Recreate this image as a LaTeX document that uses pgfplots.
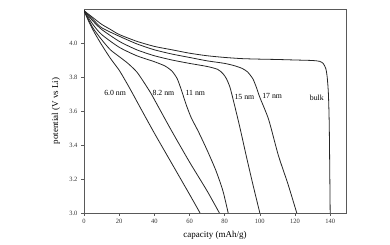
\documentclass[border=0pt]{standalone}
\usepackage{pgfplots}
\pgfplotsset{compat=1.18}
\usepackage{fontspec}
\setmainfont{Liberation Serif}
\begin{document}
\begin{tikzpicture}[x=1pt,y=1pt]
\path[use as bounding box] (0,0) rectangle (390,245);
\begin{axis}[at={(84pt,32pt)}, anchor=south west, scale only axis,
  width=262pt, height=204pt,
  xmin=0, xmax=149, ymin=3.0, ymax=4.2,
  xtick={0,20,40,60,80,100,120,140},
  ytick={3.0,3.2,3.4,3.6,3.8,4.0},
  tick align=outside, xtick pos=bottom, ytick pos=left,
  major tick length=3pt,
  tick style={black!65, line width=0.6pt},
  axis line style={black!65, line width=0.8pt},
  /pgf/number format/assume math mode=true,
  ticklabel style={font=\fontsize{6.5}{7}\selectfont, text=black!80},
  yticklabel style={/pgf/number format/fixed, /pgf/number format/fixed zerofill, /pgf/number format/precision=1},
  xlabel={capacity (mAh/g)}, ylabel={potential (V vs Li)},
  label style={font=\fontsize{9}{10}\selectfont},
  xlabel style={at={(axis description cs:0.5,-0.108)}, anchor=center},
  ylabel style={at={(axis description cs:-0.107,0.5)}, anchor=center},
  cycle list={{black!85}},
  no markers,
  every axis plot/.append style={black!85, line width=0.8pt, smooth, tension=0.4},
]
% 6.0 nm
\addplot coordinates {(0,4.19) (3,4.12) (6,4.06) (10,3.99) (15,3.91) (20,3.84) (24,3.77) (27,3.715) (32,3.62) (40,3.47) (50,3.29) (60,3.11) (66,3.0)};
% 8.2 nm
\addplot coordinates {(0,4.19) (5,4.09) (10,4.02) (15,3.96) (20,3.92) (25,3.88) (30,3.83) (34,3.77) (38,3.705) (42,3.63) (50,3.48) (60,3.30) (70,3.13) (77,3.0)};
% 11 nm
\addplot coordinates {(0,4.19) (5,4.11) (10,4.05) (20,3.975) (30,3.925) (40,3.89) (46,3.865) (50,3.835) (53,3.79) (55.5,3.72) (58,3.64) (61,3.56) (65,3.48) (70,3.37) (75,3.25) (79,3.13) (82,3.0)};
% 15 nm
\addplot coordinates {(0,4.19) (5,4.13) (10,4.08) (20,4.01) (30,3.96) (40,3.925) (50,3.90) (60,3.88) (70,3.862) (76,3.845) (79,3.82) (81,3.79) (83,3.74) (85,3.66) (88.5,3.51) (92.4,3.33) (96,3.17) (100,3.0)};
% 17 nm
\addplot coordinates {(0,4.19) (5,4.14) (10,4.09) (20,4.04) (30,3.995) (40,3.96) (50,3.935) (60,3.915) (70,3.895) (80,3.88) (86,3.865) (90,3.85) (93,3.83) (96,3.79) (98,3.74) (100,3.68) (105,3.55) (110.5,3.34) (116,3.17) (121,3.0)};
% bulk
\addplot coordinates {(0,4.19) (5,4.15) (10,4.11) (15,4.08) (20,4.05) (30,4.01) (40,3.98) (50,3.96) (60,3.94) (70,3.925) (80,3.915) (90,3.908) (100,3.905) (110,3.903) (120,3.900) (130,3.897) (134,3.892) (136,3.88) (137.5,3.85) (138.3,3.80) (139,3.70) (139.5,3.5) (140,3.0)};
\node[font=\fontsize{7.8}{9}\selectfont] at (axis cs:17.7,3.705) {6.0 nm};
\node[font=\fontsize{7.8}{9}\selectfont] at (axis cs:45.2,3.705) {8.2 nm};
\node[font=\fontsize{7.8}{9}\selectfont] at (axis cs:63.3,3.705) {11 nm};
\node[font=\fontsize{7.8}{9}\selectfont] at (axis cs:91.2,3.685) {15 nm};
\node[font=\fontsize{7.8}{9}\selectfont] at (axis cs:107,3.69) {17 nm};
\node[font=\fontsize{7.8}{9}\selectfont] at (axis cs:132.4,3.675) {bulk};
\end{axis}
\end{tikzpicture}
\end{document}
